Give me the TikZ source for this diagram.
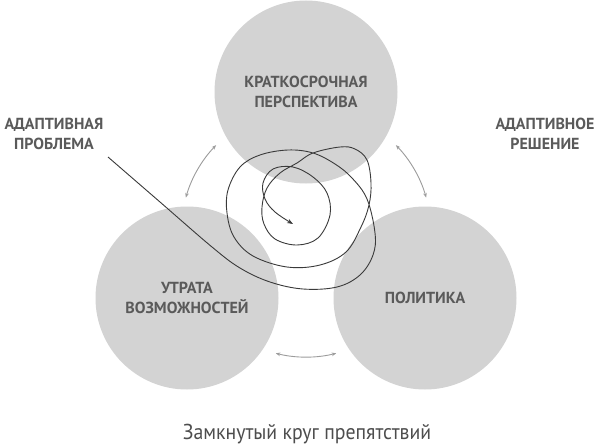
\documentclass[tikz,border=0pt]{standalone}
\usepackage{fontspec}
\setmainfont{PT Sans}
\newfontfamily\capfont[FakeStretch=0.92]{PT Sans}
\usetikzlibrary{arrows.meta}
\definecolor{circfill}{HTML}{D3D3D3}
\definecolor{labtext}{HTML}{5A5A5A}
\definecolor{arrgray}{HTML}{9C9C9C}
\definecolor{scribble}{HTML}{3A3A3A}
\definecolor{captext}{HTML}{4D4D4D}
\tikzset{
  bubble/.style={circle, fill=circfill, draw=none, minimum size=183pt, inner sep=0pt,
    text=labtext, align=center, font=\bfseries\fontsize{16}{20}\selectfont},
  sidelabel/.style={text=labtext, align=center, font=\bfseries\fontsize{16}{20}\selectfont, inner sep=0pt},
  cyclearrow/.style={draw=arrgray, line width=0.9pt,
    {Stealth[length=4.5pt,width=3.6pt]}-{Stealth[length=4.5pt,width=3.6pt]}},
  spiral/.style={draw=scribble, line width=0.9pt, -{Stealth[length=6pt,width=4.5pt]}},
}
\begin{document}
\begin{tikzpicture}[x=1pt,y=-1pt]
\useasboundingbox (0,0) rectangle (600,444);
\fill[white] (0,0) rectangle (600,444);
\node[bubble] (top) at (306,92) {КРАТКОСРОЧНАЯ\\ПЕРСПЕКТИВА};
\node[bubble] (left) at (187,298) {УТРАТА\\ВОЗМОЖНОСТЕЙ};
\node[bubble] (right) at (425,298) {ПОЛИТИКА};
\node[sidelabel] (prob) at (54,134) {АДАПТИВНАЯ\\ПРОБЛЕМА};
\node[sidelabel] (sol) at (545,134) {АДАПТИВНОЕ\\РЕШЕНИЕ};
\node[text=captext, font=\capfont\fontsize{21.5}{24}\selectfont, inner sep=0pt, anchor=base] (cap) at (307,439) {Замкнутый круг препятствий};
\coordinate (hub) at (306,232);
\draw[cyclearrow] ([shift={(224:125)}]hub) arc[start angle=224, end angle=196, radius=125];
\draw[cyclearrow] ([shift={(316:125)}]hub) arc[start angle=316, end angle=344, radius=125];
\draw[cyclearrow] ([shift={(104:125)}]hub) arc[start angle=104, end angle=76, radius=125];
\coordinate (pstart) at (108,157);
\draw[spiral] plot[smooth, tension=0.6] coordinates {
 (pstart) (160,202) (212,247) (240,268) (270,282) (303,289) (337,287) (360,275)
 (373,255) (375,233) (367,199) (352,178) (335,164) (313,153) (288,150) (260,155)
 (240,167) (228,190) (227,213) (234,237) (253,256) (287,267) (320,265) (346,252)
 (361,227) (369,205) (371,183) (367,160) (355,149) (340,147) (313,153) (297,163)
 (280,173) (267,188) (262,207) (264,224) (275,239) (297,245) (318,238) (330,215)
 (327,193) (313,177) (293,167) (273,169) (263,183) (265,199) (275,212) (293,224)};
\end{tikzpicture}
\end{document}
